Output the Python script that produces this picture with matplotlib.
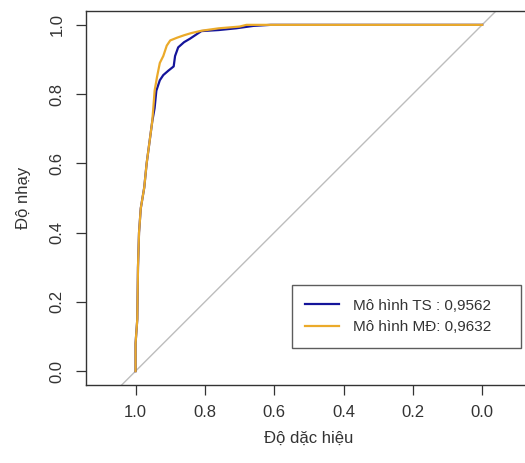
import matplotlib
matplotlib.use("Agg")
import matplotlib.pyplot as plt

plt.rcParams['font.family'] = ['Liberation Sans', 'DejaVu Sans']

# Data (specificity, sensitivity)
ts_spec = [1.0, 1.0, 0.995, 0.993, 0.99, 0.985, 0.975, 0.968, 0.96, 0.952, 0.945, 0.94,
           0.93, 0.92, 0.905, 0.89, 0.886, 0.877, 0.86, 0.843, 0.828, 0.81, 0.76, 0.71,
           0.66, 0.61, 0.0]
ts_sens = [0.0, 0.08, 0.15, 0.30, 0.40, 0.47, 0.53, 0.60, 0.66, 0.72, 0.76, 0.81,
           0.84, 0.855, 0.868, 0.88, 0.91, 0.935, 0.95, 0.96, 0.97, 0.982, 0.985, 0.99,
           0.997, 1.0, 1.0]

md_spec = [1.0, 1.0, 0.995, 0.993, 0.99, 0.985, 0.975, 0.968, 0.96, 0.952, 0.948, 0.945,
           0.938, 0.93, 0.92, 0.91, 0.90, 0.88, 0.86, 0.84, 0.81, 0.76, 0.70, 0.68, 0.0]
md_sens = [0.0, 0.08, 0.15, 0.30, 0.40, 0.47, 0.53, 0.60, 0.66, 0.72, 0.77, 0.81,
           0.85, 0.89, 0.91, 0.94, 0.955, 0.963, 0.97, 0.976, 0.983, 0.99, 0.995, 1.0, 1.0]

labels = ["Mô hình TS : 0,9562", "Mô hình MĐ: 0,9632"]
xticks = [1.0, 0.8, 0.6, 0.4, 0.2, 0.0]
yticks = [0.0, 0.2, 0.4, 0.6, 0.8, 1.0]

W, H = 525, 463
fig = plt.figure(figsize=(W / 100, H / 100), dpi=100)
x0, x1 = 86, 531.7
y0, y1 = 11, 385
ax = fig.add_axes([x0 / W, 1 - y1 / H, (x1 - x0) / W, (y1 - y0) / H])

xlim = (1.143, -0.143)
ylim = (-0.04, 1.04)
ax.set_xlim(*xlim)
ax.set_ylim(*ylim)

# identity line
ax.plot([1.2, -0.2], [-0.2, 1.2], color='#BDBDBD', lw=1.0, zorder=1)

ax.plot(ts_spec, ts_sens, color='#14149A', lw=1.6, label=labels[0], zorder=3)
ax.plot(md_spec, md_sens, color='#EBAA2A', lw=1.6, label=labels[1], zorder=4)

ax.set_xticks(xticks)
ax.set_xticklabels([f"{t:.1f}" for t in xticks])
ax.set_yticks(yticks)
ax.set_yticklabels([f"{t:.1f}" for t in yticks], rotation=90, va='center')
ax.tick_params(axis='both', length=7.5, width=0.9, labelsize=12, color='#333333',
               labelcolor='#333333', pad=5)
ax.tick_params(axis='x', pad=7)
ax.tick_params(axis='y', pad=8)

for s in ax.spines.values():
    s.set_linewidth(1.0)
    s.set_color('#333333')

ax.set_xlabel("Độ dặc hiệu", fontsize=12, color='#333333', labelpad=8)
ax.set_ylabel("Độ nhạy", fontsize=12, color='#333333', labelpad=13.5)

leg = ax.legend(loc='upper left',
                bbox_to_anchor=(291.7 / W, 1 - 350.7 / H, (520.7 - 291.7) / W, (350.7 - 285) / H),
                bbox_transform=fig.transFigure, mode='expand',
                fancybox=False, frameon=True, fontsize=11, handlelength=2.2,
                borderpad=0.9, labelspacing=0.5, handletextpad=0.9, borderaxespad=0)
leg.get_frame().set_edgecolor('#333333')
leg.get_frame().set_linewidth(1.0)
for t in leg.get_texts():
    t.set_color('#333333')

fig.savefig("out.png", dpi=100)
